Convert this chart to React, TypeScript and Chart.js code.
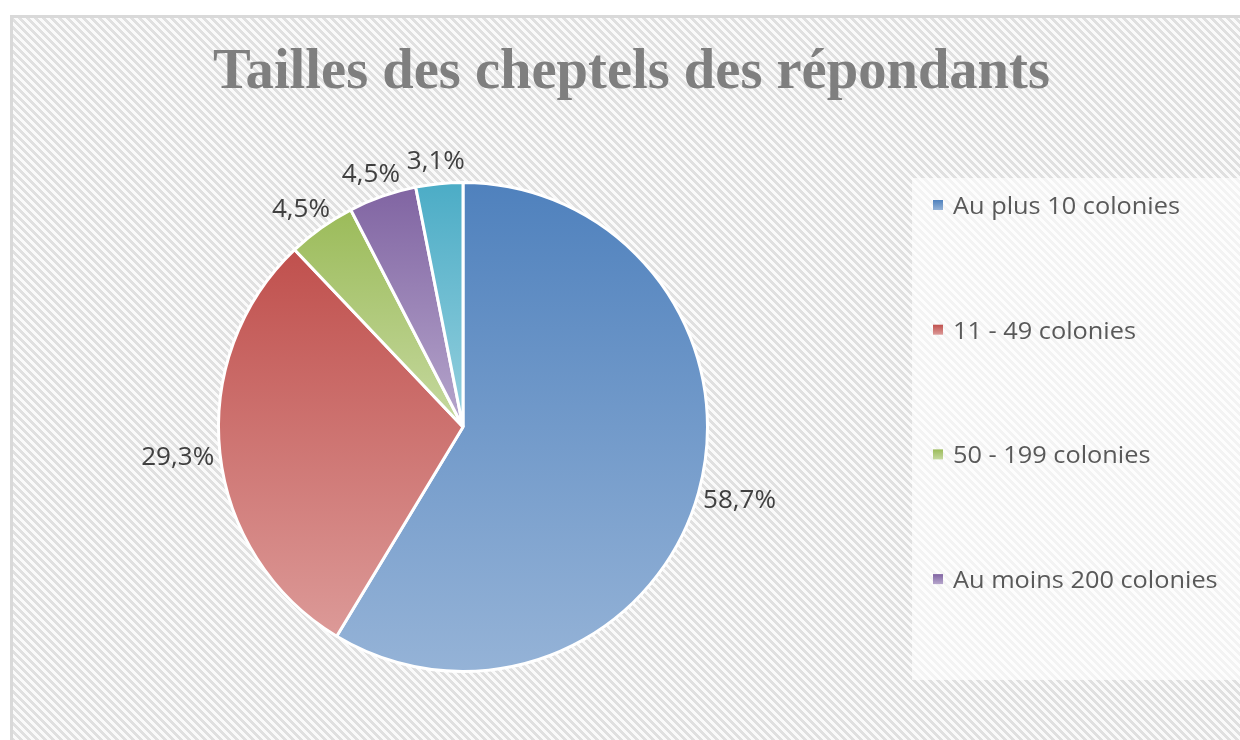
import React, { useEffect, useRef } from "react";
import { Chart, registerables } from "chart.js";

Chart.register(...registerables);

const TITLE = "Tailles des cheptels des répondants";
const categories = [
  "Au plus 10 colonies",
  "11 - 49 colonies",
  "50 - 199 colonies",
  "Au moins 200 colonies",
  "Non renseigné",
];
const values = [58.7, 29.3, 4.5, 4.5, 3.1];
const topColors = ["#4f81bd", "#c0504d", "#9bbb59", "#8064a2", "#4bacc6"];
const bottomColors = ["#95b3d7", "#dc9a98", "#c6d9a0", "#b6a6cc", "#96d0de"];

const W = 1240;
const H = 740;

const fmt = (v: number) => v.toFixed(1).replace(".", ",") + "%";

function sliceBounds(area: any, i: number) {
  const cx = (area.left + area.right) / 2;
  const cy = (area.top + area.bottom) / 2;
  const r = Math.min(area.right - area.left, area.bottom - area.top) / 2;
  const total = values.reduce((a, b) => a + b, 0);
  let before = 0;
  for (let k = 0; k < i; k++) before += values[k];
  const s = -Math.PI / 2 + (2 * Math.PI * before) / total;
  const e = s + (2 * Math.PI * values[i]) / total;
  const ys = [cy, cy + r * Math.sin(s), cy + r * Math.sin(e)];
  for (const a of [-1.5 * Math.PI, 0.5 * Math.PI, 2.5 * Math.PI]) if (a >= s && a <= e) ys.push(cy + r);
  for (const a of [-0.5 * Math.PI, 1.5 * Math.PI]) if (a > s && a < e) ys.push(cy - r);
  return { y0: Math.min(...ys), y1: Math.max(...ys) };
}

function makePattern(ctx: CanvasRenderingContext2D) {
  const c = document.createElement("canvas");
  const n = 8;
  c.width = n;
  c.height = n;
  const pc = c.getContext("2d")!;
  const img = pc.createImageData(n, n);
  for (let y = 0; y < n; y++) {
    for (let x = 0; x < n; x++) {
      const d = (((x - y) % n) + n) % n;
      const v = d < 4 ? 224 : 250;
      const idx = (y * n + x) * 4;
      img.data[idx] = v;
      img.data[idx + 1] = v;
      img.data[idx + 2] = v;
      img.data[idx + 3] = 255;
    }
  }
  pc.putImageData(img, 0, 0);
  return ctx.createPattern(c, "repeat");
}

function fitFont(ctx: CanvasRenderingContext2D, text: string, family: string, weight: string, width: number) {
  ctx.font = `${weight} 100px ${family}`;
  const w = ctx.measureText(text).width;
  return (100 * width) / w;
}

// draws text at a given font size, compressed horizontally by sx
function drawScaled(ctx: CanvasRenderingContext2D, text: string, x: number, y: number, sx: number, align: "left" | "center") {
  ctx.save();
  ctx.translate(x, y);
  ctx.scale(sx, 1);
  ctx.textAlign = align;
  ctx.fillText(text, 0, 0);
  ctx.restore();
}

const LABEL_FONT = 25;
const LEGEND_FONT = 24;

const decorPlugin = {
  id: "decor",
  beforeDraw(chart: any) {
    const ctx: CanvasRenderingContext2D = chart.ctx;
    ctx.save();
    ctx.fillStyle = "#ffffff";
    ctx.fillRect(0, 0, W, H);
    const pat = makePattern(ctx);
    if (pat) {
      ctx.fillStyle = pat;
      ctx.fillRect(12, 17, W - 12, H - 17);
    }
    ctx.strokeStyle = "#d9d9d9";
    ctx.lineWidth = 3;
    ctx.strokeRect(11.5, 16.5, W + 20, H + 20);

    // legend box
    ctx.fillStyle = "rgba(255,255,255,0.6)";
    ctx.fillRect(912, 178, W - 912, 502);

    // title
    const tf = fitFont(ctx, TITLE, '"Liberation Serif"', "bold", 837);
    ctx.font = `bold ${tf}px "Liberation Serif"`;
    ctx.fillStyle = "#7f7f7f";
    ctx.textAlign = "center";
    ctx.textBaseline = "alphabetic";
    ctx.fillText(TITLE, 631.5, 88);

    // legend
    ctx.font = `${LEGEND_FONT}px "Open Sans"`;
    const sx = 227 / ctx.measureText(categories[0]).width;
    ctx.textBaseline = "alphabetic";
    const boxTop = 178;
    const boxBottom = 680;
    for (let i = 0; i < categories.length; i++) {
      const y = 205 + i * 124.7;
      if (y + 12 > boxBottom || y < boxTop) continue;
      const g = ctx.createLinearGradient(0, y - 5, 0, y + 5);
      g.addColorStop(0, topColors[i]);
      g.addColorStop(1, bottomColors[i]);
      ctx.fillStyle = g;
      ctx.fillRect(933, y - 5, 10, 10);
      ctx.fillStyle = "#595959";
      drawScaled(ctx, categories[i], 953, y + 9, sx, "left");
    }
    ctx.restore();
  },
  afterDatasetsDraw(chart: any) {
    const ctx: CanvasRenderingContext2D = chart.ctx;
    const meta = chart.getDatasetMeta(0);
    ctx.save();
    ctx.font = `${LABEL_FONT}px "Open Sans"`;
    const sx = 73 / ctx.measureText("58,7%").width;
    ctx.fillStyle = "#404040";
    ctx.textBaseline = "alphabetic";
    const capH = LABEL_FONT * 0.72;
    const boxH = 36;
    meta.data.forEach((arc: any, i: number) => {
      const p = arc.getProps(["x", "y", "startAngle", "endAngle", "outerRadius"], true);
      const mid = (p.startAngle + p.endAngle) / 2;
      const dx = Math.cos(mid);
      const dy = Math.sin(mid);
      const text = fmt(values[i]);
      const w = ctx.measureText(text).width * sx;
      const R = p.outerRadius + 6;
      const px = p.x + dx * R + (dx * w) / 2;
      const py = p.y + dy * R + (dy * boxH) / 2;
      drawScaled(ctx, text, px, py + capH / 2, sx, "center");
    });
    ctx.restore();
  },
};

export default function App() {
  const ref = useRef<HTMLCanvasElement | null>(null);
  useEffect(() => {
    document.body.style.margin = "0";
    const canvas = ref.current!;
    const chart = new Chart(canvas, {
      type: "pie",
      data: {
        labels: categories,
        datasets: [
          {
            data: values,
            borderColor: "#ffffff",
            borderWidth: 3,
            backgroundColor: (c: any) => {
              const area = c.chart.chartArea;
              const i = c.dataIndex;
              if (!area || i === undefined) return topColors[i ?? 0];
              const { y0, y1 } = sliceBounds(area, i);
              const g = c.chart.ctx.createLinearGradient(0, y0, 0, y1);
              g.addColorStop(0, topColors[i]);
              g.addColorStop(1, bottomColors[i]);
              return g;
            },
          },
        ],
      },
      options: {
        responsive: false,
        animation: false,
        layout: { padding: { left: 217, right: 531, top: 181, bottom: 67 } },
        plugins: {
          legend: { display: false },
          title: { display: false },
          tooltip: { enabled: false },
        },
      },
      plugins: [decorPlugin],
    });
    return () => chart.destroy();
  }, []);
  return <canvas ref={ref} width={W} height={H} style={{ display: "block", width: W, height: H }} />;
}
